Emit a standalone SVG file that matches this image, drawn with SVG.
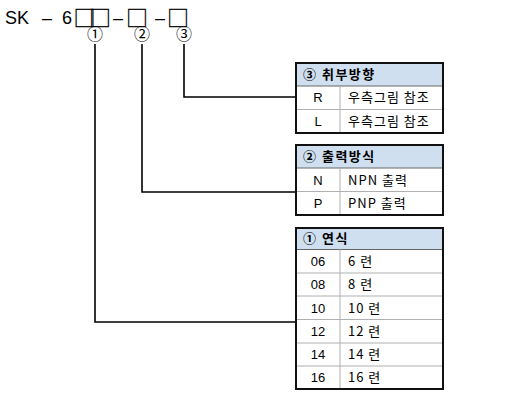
<svg xmlns="http://www.w3.org/2000/svg" width="508" height="404" viewBox="0 0 508 404">
<style>
.t{font-family:"Liberation Sans","Noto Sans CJK KR",sans-serif;fill:#000}
.k{font-family:"Noto Sans CJK KR","Liberation Sans",sans-serif;fill:#000;font-size:13px;letter-spacing:1px}
.sq{font-family:"Noto Sans CJK KR",sans-serif;fill:#000;stroke:#000;stroke-width:0.3;font-size:22px}
.c{font-family:"Noto Sans CJK KR",sans-serif;fill:#000;font-size:16px;text-anchor:middle}
.h{font-weight:bold;letter-spacing:1.5px}
.outer{fill:none;stroke:#111;stroke-width:2}
.hdr{fill:#cfdff0}
.hl{stroke:#666;stroke-width:1}
.rl{stroke:#b0b0b0;stroke-width:1}
.cn{fill:none;stroke:#000;stroke-width:1.6}
</style>
<rect width="508" height="404" fill="#fff"/>
<g id="title">
<text class="t" x="5" y="24" font-size="18">SK</text>
<text class="t" x="42" y="24" font-size="18">–</text>
<text class="t" x="62" y="24" font-size="18">6</text>
<text class="sq" x="73.5" y="25.5" style="letter-spacing:-6.5px">□□</text>
<text class="t" x="113" y="24" font-size="18">–</text>
<text class="sq" x="126" y="25.5">□</text>
<text class="t" x="155" y="24" font-size="18">–</text>
<text class="sq" x="167" y="25.5">□</text>
<text class="c" x="95" y="40">①</text>
<text class="c" x="142" y="40">②</text>
<text class="c" x="184" y="40">③</text>
</g>
<g id="connectors">
<polyline class="cn" points="184,44 184,97 296,97"/>
<polyline class="cn" points="142,44 142,192 296,192"/>
<polyline class="cn" points="95,44 95,322 296,322"/>
</g>
<g id="table3">
<rect class="hdr" x="296" y="63" width="147" height="23"/>
<line class="hl" x1="296" y1="86" x2="443" y2="86"/>
<line class="rl" x1="296" y1="109.5" x2="443" y2="109.5"/>
<line class="rl" x1="340" y1="86" x2="340" y2="133"/>
<rect class="outer" x="296" y="63" width="147" height="70"/>
<text class="k h" x="303" y="79">③ 취부방향</text>
<text class="t" x="318" y="102" font-size="13" text-anchor="middle">R</text>
<text class="t" x="318" y="126" font-size="13" text-anchor="middle">L</text>
<text class="k" x="348" y="102">우측그림 참조</text>
<text class="k" x="348" y="126">우측그림 참조</text>
</g>
<g id="table2">
<rect class="hdr" x="296" y="145" width="147" height="23"/>
<line class="hl" x1="296" y1="168" x2="443" y2="168"/>
<line class="rl" x1="296" y1="191.5" x2="443" y2="191.5"/>
<line class="rl" x1="340" y1="168" x2="340" y2="215"/>
<rect class="outer" x="296" y="145" width="147" height="70"/>
<text class="k h" x="303" y="161">② 출력방식</text>
<text class="t" x="318" y="185" font-size="13" text-anchor="middle">N</text>
<text class="t" x="318" y="208" font-size="13" text-anchor="middle">P</text>
<text class="k" x="348" y="185">NPN 출력</text>
<text class="k" x="348" y="208">PNP 출력</text>
</g>
<g id="table1">
<rect class="hdr" x="296" y="228" width="147" height="21.5"/>
<line class="hl" x1="296" y1="249.5" x2="443" y2="249.5"/>
<line class="rl" x1="296" y1="273" x2="443" y2="273"/>
<line class="rl" x1="296" y1="296" x2="443" y2="296"/>
<line class="rl" x1="296" y1="319.5" x2="443" y2="319.5"/>
<line class="rl" x1="296" y1="343" x2="443" y2="343"/>
<line class="rl" x1="296" y1="366" x2="443" y2="366"/>
<line class="rl" x1="340" y1="249.5" x2="340" y2="389"/>
<rect class="outer" x="296" y="228" width="147" height="161"/>
<text class="k h" x="303" y="243">① 연식</text>
<text class="t" x="318" y="266" font-size="13" text-anchor="middle">06</text>
<text class="t" x="318" y="289" font-size="13" text-anchor="middle">08</text>
<text class="t" x="318" y="313" font-size="13" text-anchor="middle">10</text>
<text class="t" x="318" y="336" font-size="13" text-anchor="middle">12</text>
<text class="t" x="318" y="359" font-size="13" text-anchor="middle">14</text>
<text class="t" x="318" y="382" font-size="13" text-anchor="middle">16</text>
<text class="k" x="348" y="266">6 련</text>
<text class="k" x="348" y="289">8 련</text>
<text class="k" x="348" y="313">10 련</text>
<text class="k" x="348" y="336">12 련</text>
<text class="k" x="348" y="359">14 련</text>
<text class="k" x="348" y="382">16 련</text>
</g>
</svg>
